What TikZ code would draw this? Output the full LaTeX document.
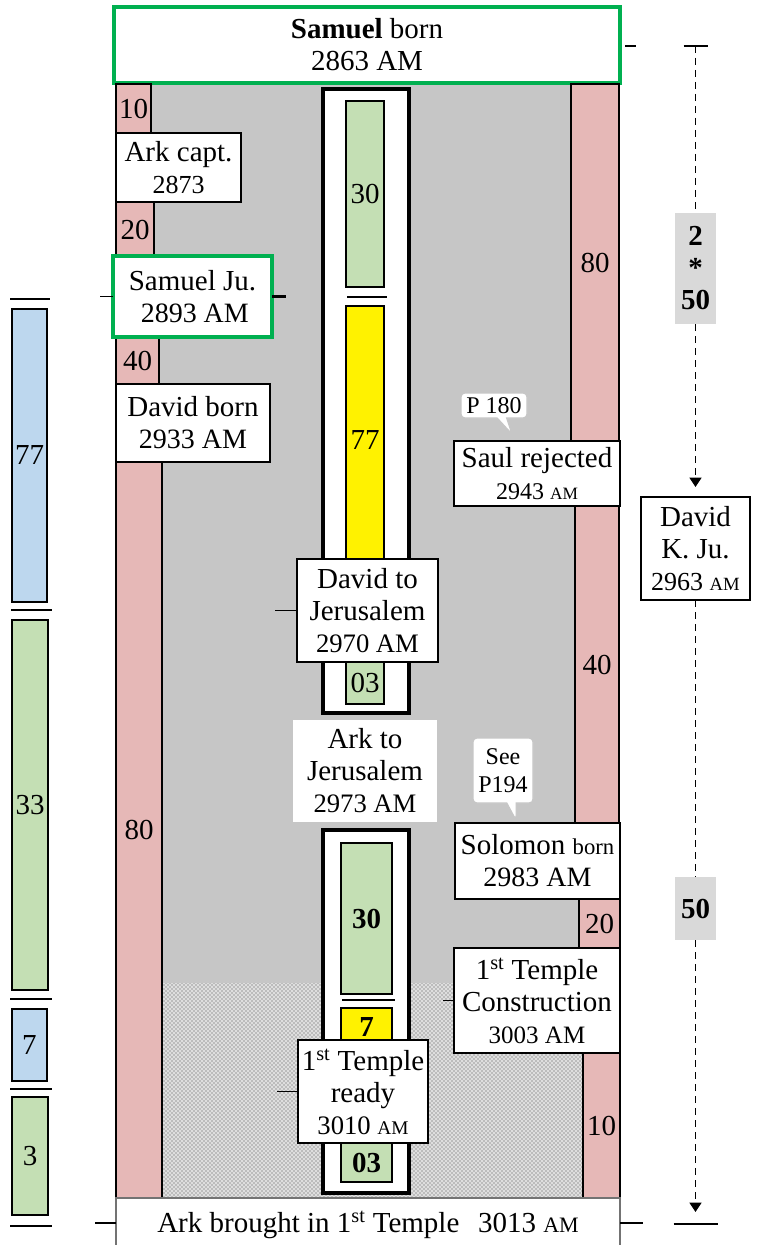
\documentclass[tikz,border=0pt]{standalone}
\usepackage{fontspec}
\setmainfont{Liberation Serif}
\usetikzlibrary{shapes.callouts,arrows.meta,patterns}
\definecolor{pinkc}{RGB}{230,184,183}
\definecolor{greenc}{RGB}{196,223,180}
\definecolor{bluec}{RGB}{189,215,238}
\definecolor{grnline}{RGB}{0,176,80}
\definecolor{upgray}{RGB}{198,198,198}
\definecolor{lowgray}{RGB}{222,222,222}
\definecolor{boxgray}{RGB}{217,217,217}
\newcommand\fs[2][24]{\fontsize{#2}{#1}\selectfont}
\newcommand\am[1][14]{{\fontsize{#1}{#1}\selectfont AM}}
\newcommand\mkbox[7]{\node[#6, minimum width={(#4-#2)*0.75pt}, minimum height={(#5-#3)*0.75pt}] (#1) at ({(#2+#4)/2},{(#3+#5)/2}) {#7};}
\begin{document}
\begin{tikzpicture}[x=0.75pt,y=-0.75pt,
  every node/.style={inner sep=0pt,outer sep=0pt,align=center,font=\fs{21.75}},
  pinkbar/.style={draw=black,line width=1pt,fill=pinkc},
  greenbar/.style={draw=black,line width=1.1pt,fill=greenc},
  bluebar/.style={draw=black,line width=1.1pt,fill=bluec},
  yellowbar/.style={draw=black,line width=1.1pt,fill=yellow},
  evbox/.style={draw=black,line width=1.3pt,fill=white},
  greenbox/.style={draw=grnline,line width=2.5pt,fill=white},
  column/.style={draw=black,line width=2.5pt,fill=white},
  bottombox/.style={draw=black!55,line width=0.8pt,fill=white},
  graybox/.style={fill=boxgray,font=\fs{21.75}\bfseries},
  bubble/.style={rectangle callout,draw=gray!45,fill=white,line width=0.8pt,rounded corners=3pt,callout pointer width=7pt,font=\fs[21]{18}},
  tick/.style={line width=1pt},
  sepline/.style={line width=1.3pt},
  darr/.style={dash pattern=on 5pt off 4pt,line width=1pt}]
\useasboundingbox (0,0) rectangle (757,1245);
% background
\fill[upgray] (116,83) rectangle (620,983);
\fill[lowgray] (116,983) rectangle (620,1198);
\fill[pattern=crosshatch dots,pattern color=black!70] (116,983) rectangle (620,1198);
% top box
\mkbox{samuel}{114}{7}{620}{83}{greenbox}{\textbf{Samuel} born\\2863 AM}
\draw[tick] (625,46) -- (636,46);
% left column
\mkbox{l10}{116}{84}{151}{134}{pinkbar}{10}
\mkbox{l20}{116}{202}{154}{257}{pinkbar}{20}
\mkbox{l40}{116}{337}{159}{384}{pinkbar}{40}
\mkbox{l80}{116}{462}{162}{1198}{pinkbar}{80}
\mkbox{arkc}{116}{133}{241}{202}{evbox}{Ark capt.\\{\fs{19.5}2873}}
\mkbox{samju}{113}{256}{272}{337}{greenbox}{Samuel Ju.\\{\fs{21}\,2893 AM}}
\mkbox{dborn}{116}{384}{270}{462}{evbox}{David born\\{\fs{21}2933 AM}}
\draw[tick] (samju.west) -- ++(-13,0);
\draw[line width=2pt] (samju.east) -- ++(14,0);
% right column
\mkbox{r80}{571}{84}{619}{441}{pinkbar}{80}
\mkbox{r40}{575}{506}{619}{823}{pinkbar}{40}
\mkbox{r20}{579}{899}{620}{948}{pinkbar}{20}
\mkbox{r10}{583}{1053}{620}{1198}{pinkbar}{10}
\mkbox{saul}{454}{441}{620}{506}{evbox}{Saul rejected\\{\fs{18}2943 \am[13]}}
\mkbox{solo}{455}{823}{620}{899}{evbox}{Solomon {\fs{17}born}\\{\fs{21}2983 AM}}
\mkbox{tcon}{454}{948}{620}{1053}{evbox}{1\textsuperscript{st} Temple\\Construction\\{\fs{18.75}3003 AM}}
\draw[tick] (tcon.west) -- ++(-11,0);
% bubbles
\node[bubble,minimum width=49.5pt,minimum height=18.75pt,callout absolute pointer={(512,434)}] (p180) at (494,405.5) {P 180};
\node[bubble,minimum width=45pt,minimum height=48.75pt,callout absolute pointer={(516,820)}] (p194) at (503,770.5) {See\\P194};
% upper centre column
\mkbox{colA}{323}{89}{409}{713}{column}{}
\mkbox{c30}{346}{101}{384}{287}{greenbar}{30}
\draw[sepline] (347,297) -- (387,297);
\mkbox{c77}{346}{306}{384}{574}{yellowbar}{77}
\mkbox{dj}{297}{559}{438}{662}{evbox}{David to\\Jerusalem\\{\fs{20}2970 AM}}
\mkbox{c03}{346}{662}{384}{704}{greenbar}{03}
\draw[tick] (dj.west) -- ++(-22,0);
\mkbox{arkj}{293}{720}{437}{822}{fill=white}{Ark to\\Jerusalem\\{\fs{20}2973 AM}}
% lower centre column
\mkbox{colB}{323}{830}{409}{1193}{column}{}
\mkbox{d30}{341}{843}{392}{994}{greenbar}{\textbf{30}}
\draw[sepline] (342,1000) -- (395,1000);
\mkbox{d7}{341}{1008}{392}{1046}{yellowbar}{\textbf{7}}
\mkbox{tr}{298}{1040}{428}{1143}{evbox}{1\textsuperscript{st} Temple\\ready\\{\fs{20}3010 \am[14.5]}}
\mkbox{d03}{341}{1143}{392}{1182}{greenbar}{\textbf{03}}
\draw[tick] (tr.west) -- ++(-21,0);
% bottom box
\mkbox{arkb}{116}{1198}{620}{1252}{bottombox}{Ark brought in 1\textsuperscript{st} Temple\hspace{14pt}3013 \am[16.5]}
\draw[tick] (95,1223) -- (116,1223);
\draw[tick] (620,1223) -- (643,1223);
% left timeline
\mkbox{t77}{12}{309}{47}{602}{bluebar}{77}
\mkbox{t33}{12}{620}{48}{990}{greenbar}{33}
\mkbox{t7}{12}{1009}{47}{1081}{bluebar}{7}
\mkbox{t3}{12}{1097}{48}{1215}{greenbar}{3}
\draw[tick] (10,299) -- (50,299);
\draw[tick] (11,610) -- (52,610);
\draw[tick] (10,999) -- (52,999);
\draw[tick] (10,1089) -- (52,1089);
\draw[tick] (10,1226) -- (52,1226);
% right dashed scale
\coordinate (ttop) at (695.5,46);
\coordinate (tbot) at (695.5,1224);
\mkbox{b250}{675}{213}{716}{324}{graybox}{2\\*\\50}
\mkbox{dkj}{641}{497}{750}{600}{evbox}{David\\K. Ju.\\{\fs{19.5}2963 \am[14]}}
\mkbox{b50}{675}{877}{716}{940}{graybox}{50}
\draw[tick] (ttop) ++(-12,0) -- ++(24,0);
\draw[tick] (tbot) ++(-22,0) -- ++(44,0);
\draw[darr] (ttop) -- (b250.north);
\draw[darr,-{Triangle[length=7pt,width=9pt]}] (b250.south) -- ([yshift=7.5pt]dkj.north);
\draw[darr] (dkj.south) -- (b50.north);
\draw[darr,-{Triangle[length=7pt,width=9pt]}] (b50.south) -- ([yshift=9pt]tbot);
\end{tikzpicture}
\end{document}
